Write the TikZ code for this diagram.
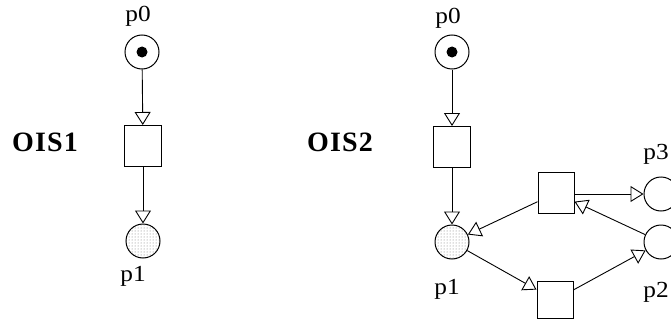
\documentclass[tikz,border=0pt]{standalone}
\usepackage{fontspec}
\setmainfont{Liberation Serif}
\usetikzlibrary{arrows.meta,patterns}
\begin{document}
\begin{tikzpicture}[x=1pt,y=-1pt,
  place/.style={circle,draw,line width=1pt,minimum size=34pt,inner sep=0pt},
  stippled/.style={place,pattern=dots,pattern color=black!55},
  trans/.style={rectangle,draw,line width=1pt,minimum width=37pt,minimum height=41pt,inner sep=0pt},
  arc/.style={line width=0.9pt,-{Triangle[open,length=13pt,width=16pt,line width=0.9pt]}},
  lbl/.style={font=\fontsize{23}{27}\selectfont\addfontfeature{FakeStretch=1.1},inner sep=0pt,anchor=base},
  title/.style={font=\fontsize{28}{32}\selectfont\bfseries\addfontfeature{LetterSpace=4},inner sep=0pt},
]
\useasboundingbox (0,0) rectangle (671,321);

% ---- OIS1 ----
\node[title] (ois1) at (45,142) {OIS1};
\node[place] (p0L) at (142,52) {};
\fill (p0L.center) circle[radius=5.5];
\node[trans] (tL) at (143,146) {};
\node[stippled] (p1L) at (143,241) {};
\node[lbl] (lp0L) at (138,22) {p0};
\node[lbl] (lp1L) at (133,281) {p1};
\draw[arc] (p0L) -- (tL);
\draw[arc] (tL) -- (p1L);

% ---- OIS2 ----
\node[title] (ois2) at (340,142) {OIS2};
\node[place] (p0R) at (452,52) {};
\fill (p0R.center) circle[radius=5.5];
\node[trans] (t1) at (452,147) {};
\node[stippled] (p1R) at (452,242) {};
\node[trans,minimum width=36pt] (t2) at (556,193) {};
\node[trans,minimum width=36pt,minimum height=37pt] (t3) at (555,300) {};
\node[place] (p3) at (661,194) {};
\node[place] (p2) at (661,242) {};
\node[lbl] (lp0R) at (448,24) {p0};
\node[lbl] (lp1R) at (447,294) {p1};
\node[lbl] (lp3) at (656,159) {p3};
\node[lbl] (lp2) at (656,297) {p2};

\draw[arc] (p0R) -- (t1);
\draw[arc] (t1) -- (p1R);
\draw[arc] (t2) -- (p1R);
\draw[arc] (p1R) -- (t3);
\draw[arc] (t3) -- (p2);
\draw[arc] (p2) -- (t2);
\draw[arc] (t2.east |- p3.west) -- (p3.west);
\end{tikzpicture}
\end{document}
